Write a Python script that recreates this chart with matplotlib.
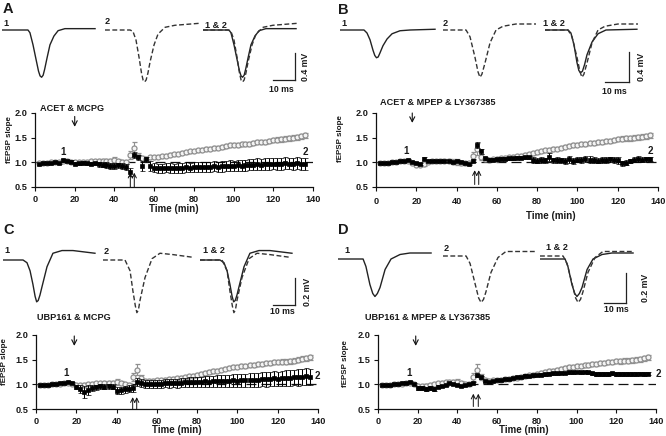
import matplotlib
matplotlib.use("Agg")
import matplotlib.pyplot as plt
from matplotlib.lines import Line2D

plt.rcParams['font.family'] = ['Liberation Sans', 'DejaVu Sans']
plt.rcParams['font.weight'] = 'bold'

# ======================= DATA =======================
# sampling times of the LTP time courses (min)
time_min = list(range(2, 138, 2))   # 68 samples

# ---- panel A : ACET & MCPG ----
ctrl_A = [0.98, 0.99, 0.99, 1.00, 1.00, 1.01, 1.02, 1.03, 1.01,
          1.00, 1.00, 1.01, 1.01, 1.02, 1.02, 1.03, 1.03, 1.03, 1.02, 1.04, 1.03, 1.01, 1.00,
          1.15,
          1.30, 1.12, 1.08, 1.06, 1.10, 1.10,
          1.11, 1.12, 1.13, 1.15, 1.16, 1.17, 1.19, 1.20, 1.22, 1.23, 1.24, 1.26, 1.27, 1.28,
          1.29, 1.30, 1.31, 1.33, 1.35, 1.36, 1.36, 1.37, 1.38, 1.38, 1.40, 1.41, 1.41, 1.42,
          1.44, 1.46, 1.46, 1.47, 1.48, 1.49, 1.50, 1.51, 1.53, 1.55]
drug_A = [0.97, 0.98, 0.98, 0.99, 1.00, 0.99, 1.04, 1.03, 1.01,
          0.97, 0.98, 0.99, 0.98, 0.97, 0.98, 0.96, 0.95, 0.94, 0.93, 0.92, 0.94, 0.93, 0.90,
          0.80,
          1.15, 1.10, 0.93, 1.06, 0.93, 0.89,
          0.88, 0.88, 0.89, 0.88, 0.88, 0.89, 0.89, 0.90, 0.89, 0.90, 0.90, 0.91, 0.90, 0.91,
          0.92, 0.91, 0.92, 0.92, 0.93, 0.93, 0.94, 0.93, 0.94, 0.95, 0.95, 0.96, 0.95, 0.96,
          0.97, 0.97, 0.96, 0.97, 0.98, 0.97, 0.97, 0.98, 0.97, 0.97]
drug_A_err = [0.02, 0.02, 0.02, 0.02, 0.02, 0.02, 0.03, 0.02, 0.03,
              0.03, 0.03, 0.03, 0.03, 0.03, 0.03, 0.05, 0.05, 0.06, 0.06, 0.06, 0.05, 0.06, 0.06,
              0.08,
              0.06, 0.05, 0.10, 0.05, 0.10, 0.09,
              0.09, 0.09, 0.09, 0.10, 0.09, 0.10, 0.10, 0.10, 0.09, 0.10, 0.10, 0.10, 0.10, 0.10,
              0.10, 0.10, 0.11, 0.10, 0.11, 0.10, 0.11, 0.11, 0.11, 0.11, 0.11, 0.12, 0.11, 0.12,
              0.12, 0.11, 0.12, 0.12, 0.12, 0.11, 0.12, 0.12, 0.12, 0.12]

# ---- panel B : ACET & MPEP & LY367385 ----
ctrl_B = [0.98, 0.99, 0.99, 1.00, 1.01, 1.02, 1.03, 1.03, 0.98,
          0.95, 0.95, 0.96, 1.01, 1.02, 1.02, 1.03, 1.03, 1.02, 1.01, 1.00, 0.99, 0.98, 0.99,
          1.12,
          1.27, 1.10, 1.06, 1.05, 1.06, 1.07,
          1.08, 1.09, 1.10, 1.11, 1.12, 1.13, 1.15, 1.16, 1.18, 1.20, 1.22, 1.24, 1.25, 1.27,
          1.28, 1.30, 1.32, 1.34, 1.35, 1.36, 1.37, 1.38, 1.39, 1.40, 1.41, 1.42, 1.43, 1.44,
          1.45, 1.47, 1.48, 1.49, 1.49, 1.50, 1.51, 1.52, 1.53, 1.55]
drug_B = [0.98, 0.98, 0.99, 1.00, 1.01, 1.02, 1.03, 1.04, 1.00,
          0.98, 0.97, 1.07, 1.03, 1.02, 1.03, 1.02, 1.03, 1.02, 1.01, 1.02, 1.00, 0.98, 0.97,
          1.03,
          1.35, 1.22, 1.08, 1.05, 1.05, 1.06,
          1.07, 1.07, 1.08, 1.08, 1.09, 1.09, 1.10, 1.10, 1.04, 1.03, 1.05, 1.04, 1.10, 1.04,
          1.05, 1.04, 1.03, 1.06, 1.03, 1.05, 1.04, 1.06, 1.05, 1.04, 1.03, 1.05, 1.04, 1.06,
          1.05, 1.04, 0.98, 0.99, 1.03, 1.05, 1.06, 1.05, 1.06, 1.07]
drug_B_err = [0.02, 0.02, 0.02, 0.02, 0.02, 0.02, 0.02, 0.02, 0.02,
              0.02, 0.02, 0.03, 0.02, 0.02, 0.02, 0.02, 0.02, 0.02, 0.02, 0.02, 0.02, 0.02, 0.02,
              0.03,
              0.06, 0.05, 0.03, 0.03, 0.03, 0.03,
              0.03, 0.03, 0.03, 0.03, 0.03, 0.03, 0.03, 0.03, 0.06, 0.05, 0.06, 0.05, 0.08, 0.05,
              0.06, 0.05, 0.06, 0.07, 0.06, 0.05, 0.06, 0.06, 0.07, 0.06, 0.05, 0.06, 0.06, 0.05,
              0.06, 0.07, 0.05, 0.05, 0.04, 0.05, 0.06, 0.05, 0.05, 0.04]

# ---- panel C : UBP161 & MCPG ----
ctrl_C = [0.98, 0.99, 0.99, 1.00, 1.00, 1.01, 1.02, 1.03, 1.01,
          0.99, 0.98, 0.99, 1.00, 1.01, 1.02, 1.02, 1.03, 1.03, 1.02, 1.04, 1.02, 1.00, 0.99,
          1.15,
          1.30, 1.12, 1.06, 1.06, 1.07, 1.08,
          1.08, 1.09, 1.10, 1.11, 1.12, 1.13, 1.14, 1.16, 1.17, 1.19, 1.21, 1.23, 1.25, 1.27,
          1.28, 1.30, 1.32, 1.34, 1.35, 1.36, 1.37, 1.38, 1.39, 1.40, 1.41, 1.42, 1.43, 1.44,
          1.45, 1.45, 1.46, 1.46, 1.47, 1.48, 1.50, 1.52, 1.53, 1.55]
drug_C = [0.98, 0.98, 0.99, 1.00, 1.01, 1.02, 1.03, 1.04, 1.02,
          0.94, 0.90, 0.85, 0.88, 0.92, 0.94, 0.96, 0.95, 0.96, 0.95, 0.87, 0.88, 0.90, 0.91,
          0.92,
          1.05, 1.02, 1.00, 1.00, 1.01, 1.00,
          1.01, 1.02, 1.02, 1.03, 1.02, 1.03, 1.04, 1.04, 1.05, 1.04, 1.05, 1.06, 1.05, 1.06,
          1.07, 1.06, 1.07, 1.07, 1.08, 1.07, 1.08, 1.08, 1.09, 1.08, 1.09, 1.10, 1.10, 1.11,
          1.12, 1.11, 1.12, 1.13, 1.13, 1.14, 1.14, 1.15, 1.16, 1.15]
drug_C_err = [0.02, 0.02, 0.02, 0.02, 0.02, 0.02, 0.02, 0.02, 0.02,
              0.04, 0.08, 0.12, 0.10, 0.06, 0.05, 0.05, 0.05, 0.05, 0.05, 0.07, 0.07, 0.07, 0.07,
              0.07,
              0.08, 0.08, 0.08, 0.08, 0.08, 0.08,
              0.08, 0.08, 0.09, 0.08, 0.09, 0.09, 0.09, 0.10, 0.10, 0.10, 0.10, 0.11, 0.11, 0.11,
              0.12, 0.12, 0.12, 0.12, 0.13, 0.13, 0.13, 0.13, 0.14, 0.14, 0.14, 0.14, 0.15, 0.15,
              0.15, 0.15, 0.16, 0.16, 0.16, 0.16, 0.17, 0.17, 0.17, 0.17]

# ---- panel D : UBP161 & MPEP & LY367385 ----
ctrl_D = [0.98, 0.99, 0.99, 1.00, 1.00, 1.01, 1.02, 1.03, 1.01,
          0.97, 0.96, 0.97, 0.98, 1.00, 1.02, 1.03, 1.04, 1.05, 1.04, 1.05, 1.03, 1.01, 1.00,
          1.15,
          1.30, 1.15, 1.08, 1.07, 1.08, 1.08,
          1.09, 1.10, 1.11, 1.12, 1.13, 1.15, 1.16, 1.18, 1.19, 1.21, 1.23, 1.25, 1.27, 1.28,
          1.30, 1.32, 1.34, 1.35, 1.36, 1.37, 1.38, 1.39, 1.40, 1.41, 1.42, 1.43, 1.44, 1.45,
          1.46, 1.47, 1.47, 1.48, 1.48, 1.49, 1.50, 1.51, 1.53, 1.55]
drug_D = [0.98, 0.98, 0.99, 1.00, 1.01, 1.02, 1.03, 1.04, 1.00,
          0.93, 0.92, 0.90, 0.93, 0.90, 0.95, 0.97, 0.98, 1.02, 1.00, 0.98, 0.96, 0.99, 1.00,
          1.02,
          1.18, 1.14, 1.07, 1.05, 1.06, 1.08,
          1.09, 1.10, 1.11, 1.12, 1.14, 1.15, 1.17, 1.17, 1.18, 1.19, 1.19, 1.20, 1.21, 1.22,
          1.22, 1.23, 1.23, 1.24, 1.24, 1.25, 1.24, 1.25, 1.24, 1.22, 1.21, 1.20, 1.21, 1.20,
          1.22, 1.21, 1.20, 1.21, 1.20, 1.21, 1.20, 1.21, 1.20, 1.21]
drug_D_err = [0.02, 0.02, 0.02, 0.02, 0.02, 0.02, 0.02, 0.02, 0.02,
              0.04, 0.04, 0.04, 0.04, 0.04, 0.03, 0.02, 0.02, 0.02, 0.02, 0.02, 0.02, 0.02, 0.02,
              0.02,
              0.03, 0.03, 0.02, 0.02, 0.02, 0.02,
              0.02, 0.02, 0.02, 0.02, 0.02, 0.02, 0.03, 0.02, 0.03, 0.02, 0.03, 0.03, 0.03, 0.03,
              0.03, 0.03, 0.03, 0.03, 0.03, 0.03, 0.03, 0.03, 0.03, 0.03, 0.04, 0.04, 0.04, 0.04,
              0.04, 0.04, 0.04, 0.04, 0.04, 0.04, 0.04, 0.03, 0.04, 0.03]

# control (grey) SEM, shared by the four panels
ctrl_err = [0.02, 0.02, 0.02, 0.02, 0.02, 0.02, 0.02, 0.03, 0.02,
            0.02, 0.03, 0.03, 0.02, 0.03, 0.03, 0.03, 0.03, 0.04, 0.05, 0.06, 0.04, 0.03, 0.03,
            0.08,
            0.12, 0.06, 0.04, 0.04, 0.03, 0.03,
            0.03, 0.03, 0.03, 0.03, 0.03, 0.03, 0.03, 0.03, 0.03, 0.03, 0.035, 0.035, 0.035, 0.035,
            0.035, 0.035, 0.035, 0.035, 0.035, 0.035, 0.04, 0.04, 0.04, 0.04, 0.04, 0.04, 0.04, 0.04,
            0.04, 0.04, 0.05, 0.05, 0.05, 0.05, 0.05, 0.05, 0.05, 0.05]

titles = {'A': 'ACET & MCPG', 'B': 'ACET & MPEP & LY367385',
          'C': 'UBP161 & MCPG', 'D': 'UBP161 & MPEP & LY367385'}
drug_time = {'A': 20, 'B': 18, 'C': 19, 'D': 19}            # drug application (min)
tetanus_times = {'A': (48, 50), 'B': (49, 51), 'C': (48, 50), 'D': (48, 50.5)}
x_ticks = [0, 20, 40, 60, 80, 100, 120, 140]
y_ticks = [0.5, 1.0, 1.5, 2.0]

# ---- example fEPSP traces (time in ms, voltage in mV) ----
A_tr1_t = [0, 10.5, 11.8, 12.7, 14.1, 15.5, 16.6, 17.3, 18.0, 18.7, 19.4, 20.5, 21.8, 23.6, 25.5, 28.6, 33.2, 42.3]
A_tr1_v = [0, 0, 0, -0.04, -0.22, -0.44, -0.61, -0.68, -0.70, -0.67, -0.58, -0.41, -0.22, -0.09, -0.01, 0.02, 0.02, 0.02]
A_tr2_t = [0, 11.4, 12.7, 14.1, 15.5, 16.6, 17.3, 18.0, 18.7, 19.5, 20.5, 22.3, 24.1, 27.3, 31.8, 43.2]
A_tr2_v = [0, 0, -0.02, -0.15, -0.41, -0.64, -0.74, -0.77, -0.74, -0.64, -0.47, -0.22, -0.06, 0.04, 0.07, 0.10]

B_tr1_t = [0, 10, 11.25, 12.5, 13.75, 14.5, 15.2, 15.9, 16.6, 17.9, 19.6, 21.7, 25, 29.2, 39.6]
B_tr1_v = [0, 0, -0.04, -0.13, -0.27, -0.34, -0.37, -0.36, -0.31, -0.21, -0.12, -0.05, -0.01, 0, 0.01]
B_tr2_t = [0, 9.6, 11.25, 13.3, 14.6, 15.4, 16.2, 17.5, 19.6, 22.1, 25, 30.4, 38.75]
B_tr2_v = [0, 0, -0.09, -0.36, -0.56, -0.63, -0.59, -0.44, -0.17, 0, 0.05, 0.08, 0.08]
B_ov1_t = [0, 9.6, 10.8, 12.1, 13.3, 14.1, 14.8, 15.6, 16.5, 17.5, 19.6, 22.1, 25.4, 38.3]
B_ov1_v = [0, 0, -0.04, -0.20, -0.43, -0.54, -0.57, -0.55, -0.46, -0.33, -0.16, -0.05, 0, 0.01]

C_tr1_t = [0, 9.1, 10.9, 12.3, 13.6, 14.6, 15.3, 16.0, 16.8, 17.7, 20, 22.7, 26.8, 31.8, 41.8]
C_tr1_v = [0, 0, -0.02, -0.08, -0.18, -0.27, -0.31, -0.30, -0.26, -0.20, -0.05, 0.05, 0.07, 0.07, 0.05]
C_tr2_t = [0, 10, 12.3, 13.6, 14.7, 15.4, 16.1, 16.8, 19.1, 22.3, 25.9, 31.8, 40.9]
C_tr2_v = [0, 0, -0.08, -0.23, -0.34, -0.39, -0.37, -0.30, -0.13, 0.01, 0.05, 0.04, 0.02]

D_tr1_t = [0, 11.4, 12.7, 14.5, 15.8, 16.8, 17.9, 19.1, 21.4, 24.1, 28.2, 32.7, 42.3]
D_tr1_v = [0, 0, -0.05, -0.17, -0.23, -0.25, -0.23, -0.19, -0.07, 0, 0.03, 0.04, 0.04]
D_tr2_t = [0, 10.5, 12.3, 14.5, 16.2, 17.3, 18.4, 19.5, 21.8, 25, 28.6, 33.2, 42.3]
D_tr2_v = [0.02, 0.02, -0.03, -0.16, -0.26, -0.29, -0.27, -0.22, -0.09, 0.01, 0.05, 0.05, 0.05]

scale_mv = {'A': 0.4, 'B': 0.4, 'C': 0.2, 'D': 0.2}
scale_ms = 10

# ======================= LAYOUT (pixels) =======================
W, H = 666, 436
fig = plt.figure(figsize=(W / 100, H / 100), dpi=100)


def fbox(l, t, r, b):
    return [l / W, 1 - b / H, (r - l) / W, (b - t) / H]


def fpt(x, y):
    return (x / W, 1 - y / H)


TXT = '#1a1a1a'
GREY = '#8f8f8f'

graph_box = {'A': (35, 113, 313, 187), 'B': (376, 113, 658, 187),
             'C': (36, 335, 318, 409), 'D': (378, 335, 656, 409)}
title_pos = {'A': (40, 108), 'B': (380, 102), 'C': (37, 318), 'D': (365, 317)}
xlabel_pos = {'A': (0.50, -0.235), 'B': (0.62, -0.33), 'C': (0.50, -0.215), 'D': (0.525, -0.215)}
ylabel_pos = {'A': (-0.079, 0.635), 'B': (-0.113, 0.65), 'C': (-0.099, 0.635), 'D': (-0.104, 0.62)}
xtick_pad = {'A': 3.0, 'B': 4.0, 'C': 2.6, 'D': 2.6}
marker1 = {'A': (14, 1.21), 'B': (15, 1.22), 'C': (15, 1.22), 'D': (15.5, 1.22)}
marker2 = {'A': (136, 1.20), 'B': (136, 1.22), 'C': (139.5, 1.17), 'D': (141, 1.20)}
drug_arrow_y = {'A': (1.93, 1.72), 'B': (2.0, 1.80), 'C': (1.98, 1.78), 'D': (1.98, 1.78)}
tet_arrow_y = {'A': (0.5, 0.79), 'B': (0.55, 0.84), 'C': (0.5, 0.74), 'D': (0.55, 0.81)}

letters = {'A': (3, 2), 'B': (338, 3), 'C': (3, 223), 'D': (338, 223)}

trace_cfg = {
    'A': dict(lefts=(2, 105, 203), top=18, bottom=92, width=96, ppms=2.2, ppmv=67.5, base=30),
    'B': dict(lefts=(340, 443, 545), top=18, bottom=92, width=96, ppms=2.4, ppmv=75, base=30),
    'C': dict(lefts=(3, 103, 200), top=238, bottom=322, width=96, ppms=2.2, ppmv=135, base=260),
    'D': dict(lefts=(338, 443, 540), top=238, bottom=322, width=98, ppms=2.2, ppmv=150, base=259),
}
trace_labels = {
    'A': [(3, 23, '1'), (105, 22, '2'), (205, 25, '1 & 2')],
    'B': [(341, 24, '1'), (443, 23, '2'), (543, 24, '1 & 2')],
    'C': [(4, 250, '1'), (104, 251, '2'), (203, 250, '1 & 2')],
    'D': [(344, 250, '1'), (444, 248, '2'), (546, 247, '1 & 2')],
}
scalebar_corner = {'A': (295, 80), 'B': (629, 82), 'C': (295, 305), 'D': (626, 303)}
mv_text_pos = {'A': (306, 67), 'B': (642, 67), 'C': (307, 292), 'D': (645, 288)}
ms_text_pos = {'A': (281, 89), 'B': (614, 91), 'C': (282, 311), 'D': (616, 310)}

traces = {
    'A': ((A_tr1_t, A_tr1_v), (A_tr2_t, A_tr2_v), (A_tr1_t, A_tr1_v)),
    'B': ((B_tr1_t, B_tr1_v), (B_tr2_t, B_tr2_v), (B_ov1_t, B_ov1_v)),
    'C': ((C_tr1_t, C_tr1_v), (C_tr2_t, C_tr2_v), (C_tr1_t, C_tr1_v)),
    'D': ((D_tr1_t, D_tr1_v), (D_tr2_t, D_tr2_v), (D_tr1_t, D_tr1_v)),
}
series = {
    'A': (ctrl_A, drug_A, drug_A_err),
    'B': (ctrl_B, drug_B, drug_B_err),
    'C': (ctrl_C, drug_C, drug_C_err),
    'D': (ctrl_D, drug_D, drug_D_err),
}

SOLID = dict(color='#222222', lw=1.0, solid_joinstyle='round')
DASH = dict(color='#333333', lw=1.0, linestyle=(0, (3.5, 1.8)))

for key in ['A', 'B', 'C', 'D']:
    # ---------- panel letter ----------
    lx, ly = letters[key]
    fig.text(*fpt(lx, ly), key, fontsize=10.5, fontweight='bold', ha='left', va='top', color=TXT)

    # ---------- traces ----------
    cfg = trace_cfg[key]
    xl = (0, cfg['width'] / cfg['ppms'])
    yl = (-(cfg['bottom'] - cfg['base']) / cfg['ppmv'], (cfg['base'] - cfg['top']) / cfg['ppmv'])
    (t1, v1), (t2, v2), (to, vo) = traces[key]
    tax = []
    for i, left in enumerate(cfg['lefts']):
        a = fig.add_axes(fbox(left, cfg['top'], left + cfg['width'], cfg['bottom']))
        a.set_xlim(*xl)
        a.set_ylim(*yl)
        a.axis('off')
        tax.append(a)
    tax[0].plot(t1, v1, **SOLID)
    tax[1].plot(t2, v2, **DASH)
    tax[2].plot(to, vo, **SOLID)
    tax[2].plot(t2, v2, **DASH)
    for (px, py, s) in trace_labels[key]:
        fig.text(*fpt(px, py), s, fontsize=6.6, fontweight='bold', ha='left', va='center', color=TXT)
    # scale bar in the overlay axes (data units)
    ov = tax[2]
    cx, cy = scalebar_corner[key]
    ct = (cx - cfg['lefts'][2]) / cfg['ppms']
    cv = (cfg['base'] - cy) / cfg['ppmv']
    ov.add_line(Line2D([ct - scale_ms, ct], [cv, cv], color='#222222', lw=0.9, clip_on=False))
    ov.add_line(Line2D([ct, ct], [cv, cv + scale_mv[key]], color='#222222', lw=0.9, clip_on=False))
    fig.text(*fpt(*mv_text_pos[key]), f'{scale_mv[key]:.1f} mV', fontsize=6.3, fontweight='bold',
             rotation=90, ha='center', va='center', color=TXT)
    fig.text(*fpt(*ms_text_pos[key]), f'{scale_ms} ms', fontsize=6.3, fontweight='bold',
             ha='center', va='center', color=TXT)

    # ---------- LTP time course ----------
    ctrl, drug, derr = series[key]
    ax = fig.add_axes(fbox(*graph_box[key]))
    ax.set_xlim(0, 140)
    ax.set_ylim(0.5, 2.0)
    ax.axhline(1.0, color='#111111', lw=0.9, linestyle=(0, (8, 4)), zorder=1)
    ax.errorbar(time_min, ctrl, yerr=ctrl_err, fmt='o', ms=3.6, mfc='#f4f4f4', mec=GREY, mew=0.9,
                ecolor=GREY, elinewidth=0.8, capsize=1.8, capthick=0.8, zorder=2, clip_on=False)
    ax.errorbar(time_min, drug, yerr=derr, fmt='s', ms=2.7, mfc='black', mec='black', mew=0.5,
                ecolor='black', elinewidth=0.75, capsize=1.8, capthick=0.75, zorder=3, clip_on=False)
    for side in ('top', 'right'):
        ax.spines[side].set_visible(False)
    for side in ('left', 'bottom'):
        ax.spines[side].set_linewidth(0.9)
        ax.spines[side].set_color('#111111')
    ax.set_xticks(x_ticks)
    ax.set_yticks(y_ticks)
    ax.set_yticklabels([f'{v:.1f}' for v in y_ticks])
    ax.tick_params(axis='both', direction='out', length=3, width=0.8, labelsize=6.6,
                   colors='#111111', labelcolor=TXT)
    ax.tick_params(axis='x', pad=xtick_pad[key])
    ax.tick_params(axis='y', pad=2.5)
    for lab in ax.get_xticklabels() + ax.get_yticklabels():
        lab.set_fontweight('bold')
    ax.set_xlabel('Time (min)', fontsize=7, fontweight='bold', color=TXT)
    ax.xaxis.set_label_coords(*xlabel_pos[key])
    ax.set_ylabel('fEPSP slope', fontsize=5.8, fontweight='bold', color=TXT)
    ax.yaxis.set_label_coords(*ylabel_pos[key])
    ax.patch.set_alpha(0)

    # drug application arrow
    dt = drug_time[key]
    y0, y1 = drug_arrow_y[key]
    ax.annotate('', xy=(dt, y1), xytext=(dt, y0), annotation_clip=False,
                arrowprops=dict(arrowstyle='->,head_length=0.35,head_width=0.18', lw=0.8,
                                color='#111111', shrinkA=0, shrinkB=0))
    # tetanus arrows
    ya, yb = tet_arrow_y[key]
    for tt in tetanus_times[key]:
        ax.annotate('', xy=(tt, yb), xytext=(tt, ya), annotation_clip=False,
                    arrowprops=dict(arrowstyle='->,head_length=0.3,head_width=0.15', lw=0.7,
                                    color='#111111', shrinkA=0, shrinkB=0))
    # 1 / 2 markers
    ax.text(*marker1[key], '1', fontsize=7, fontweight='bold', ha='center', va='center', color=TXT)
    ax.text(*marker2[key], '2', fontsize=7, fontweight='bold', ha='center', va='center',
            color=TXT, clip_on=False)

    # title (drug combination)
    fig.text(*fpt(*title_pos[key]), titles[key], fontsize=6.6, fontweight='bold',
             ha='left', va='center', color=TXT)

fig.savefig('out.png', dpi=100)
